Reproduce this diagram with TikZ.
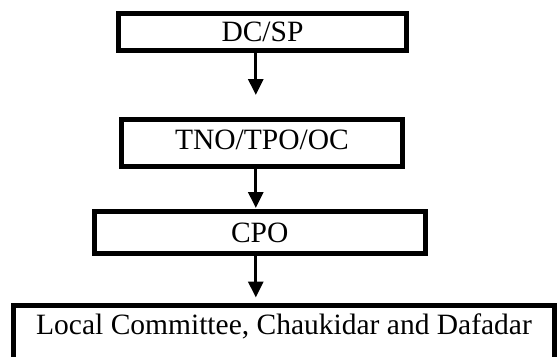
\documentclass[tikz,border=0pt]{standalone}
\usepackage{fontspec}
\setmainfont{Liberation Serif}
\usetikzlibrary{arrows.meta}
\newcommand{\hdstrut}[2]{\rule[-#2]{0pt}{\dimexpr#1+#2\relax}}
\begin{document}
\begin{tikzpicture}[x=1pt,y=-1pt,
  box/.style={draw, line width=5pt, inner sep=0pt, anchor=base,
    font=\fontsize{29.5}{35}\selectfont},
  arr/.style={line width=3pt, -{Triangle[width=15pt,length=16pt]}}]
\useasboundingbox (0,0) rectangle (559,356);
\node[box, minimum width=288.6pt] (dcsp) at (262.5,41.5) {\hdstrut{28pt}{9.3pt}DC/SP};
\node[box, minimum width=280.3pt] (tno) at (261.95,149.5) {\hdstrut{29.7pt}{17.3pt}TNO/TPO/OC};
\node[box, minimum width=331.1pt] (cpo) at (259.75,242) {\hdstrut{30.5pt}{11.2pt}CPO};
\node[box, minimum width=541pt] (local) at (284,334.5) {\hdstrut{28.7pt}{24.6pt}Local Committee, Chaukidar and Dafadar};
\coordinate (t1) at (255.8,95);
\coordinate (t2) at (255.8,208);
\coordinate (t3) at (255.8,297.5);
\draw[arr] (dcsp.south -| t1) -- (t1);
\draw[arr] (tno.south -| t2) -- (t2);
\draw[arr] (cpo.south -| t3) -- (t3);
\end{tikzpicture}
\end{document}
